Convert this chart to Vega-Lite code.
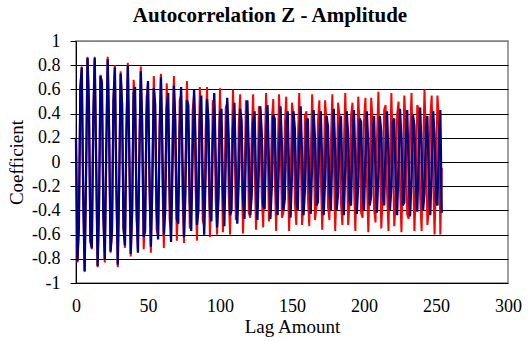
{
"$schema": "https://vega.github.io/schema/vega-lite/v6.json",
"width": 432, "height": 242,
"autosize": {"type": "none"},
"padding": {"left": 76, "top": 41, "right": 20, "bottom": 58},
"background": "white",
"title": {"text": "Autocorrelation Z - Amplitude", "font": "Liberation Serif", "fontSize": 21, "fontWeight": "bold", "color": "black", "anchor": "middle", "frame": "group", "dx": -22, "offset": 6},
"config": {
  "view": {"stroke": "#808080", "strokeWidth": 1.5},
  "axis": {"labelFont": "Liberation Serif", "labelFontSize": 18, "labelColor": "black", "titleFont": "Liberation Serif", "titleFontSize": 19, "titleFontWeight": "normal", "titleColor": "black"}
},
"data": {"values": [
{"lag":0,"red":0.19,"blue":0.19},{"lag":1,"red":-0.83,"blue":-0.82},{"lag":2,"red":-0.54,"blue":-0.53},{"lag":3,"red":0.61,"blue":0.60},{"lag":4,"red":0.79,"blue":0.78},
{"lag":5,"red":-0.28,"blue":-0.28},{"lag":6,"red":-0.91,"blue":-0.90},{"lag":7,"red":-0.10,"blue":-0.09},{"lag":8,"red":0.87,"blue":0.86},{"lag":9,"red":0.46,"blue":0.45},
{"lag":10,"red":-0.66,"blue":-0.65},{"lag":11,"red":-0.72,"blue":-0.71},{"lag":12,"red":0.36,"blue":0.36},{"lag":13,"red":0.87,"blue":0.86},{"lag":14,"red":0.00,"blue":0.00},
{"lag":15,"red":-0.87,"blue":-0.86},{"lag":16,"red":-0.36,"blue":-0.36},{"lag":17,"red":0.72,"blue":0.71},{"lag":18,"red":0.66,"blue":0.65},{"lag":19,"red":-0.45,"blue":-0.44},
{"lag":20,"red":-0.83,"blue":-0.81},{"lag":21,"red":0.09,"blue":0.09},{"lag":22,"red":0.87,"blue":0.85},{"lag":23,"red":0.27,"blue":0.26},{"lag":24,"red":-0.75,"blue":-0.74},
{"lag":25,"red":-0.58,"blue":-0.57},{"lag":26,"red":0.51,"blue":0.50},{"lag":27,"red":0.80,"blue":0.78},{"lag":28,"red":-0.18,"blue":-0.18},{"lag":29,"red":-0.87,"blue":-0.85},
{"lag":30,"red":-0.17,"blue":-0.17},{"lag":31,"red":0.75,"blue":0.73},{"lag":32,"red":0.48,"blue":0.47},{"lag":33,"red":-0.55,"blue":-0.54},{"lag":34,"red":-0.71,"blue":-0.69},
{"lag":35,"red":0.25,"blue":0.25},{"lag":36,"red":0.82,"blue":0.80},{"lag":37,"red":0.09,"blue":0.08},{"lag":38,"red":-0.78,"blue":-0.76},{"lag":39,"red":-0.41,"blue":-0.40},
{"lag":40,"red":0.68,"blue":0.57},{"lag":41,"red":0.53,"blue":0.62},{"lag":42,"red":-0.46,"blue":-0.31},{"lag":43,"red":-0.72,"blue":-0.75},{"lag":44,"red":0.16,"blue":0.00},
{"lag":45,"red":0.79,"blue":0.75},{"lag":46,"red":0.16,"blue":0.31},{"lag":47,"red":-0.72,"blue":-0.62},{"lag":48,"red":-0.46,"blue":-0.57},{"lag":49,"red":0.53,"blue":0.39},
{"lag":50,"red":0.65,"blue":0.67},{"lag":51,"red":-0.23,"blue":-0.07},{"lag":52,"red":-0.75,"blue":-0.70},{"lag":53,"red":-0.08,"blue":-0.22},{"lag":54,"red":0.71,"blue":0.61},
{"lag":55,"red":0.38,"blue":0.47},{"lag":56,"red":-0.56,"blue":-0.41},{"lag":57,"red":-0.61,"blue":-0.64},{"lag":58,"red":0.31,"blue":0.15},{"lag":59,"red":0.73,"blue":0.70},
{"lag":60,"red":-0.15,"blue":0.14},{"lag":61,"red":-0.71,"blue":-0.60},{"lag":62,"red":-0.15,"blue":-0.39},{"lag":63,"red":0.65,"blue":0.44},{"lag":64,"red":0.42,"blue":0.57},
{"lag":65,"red":-0.47,"blue":-0.20},{"lag":66,"red":-0.61,"blue":-0.66},{"lag":67,"red":0.22,"blue":-0.07},{"lag":68,"red":0.71,"blue":0.63},{"lag":69,"red":0.07,"blue":0.33},
{"lag":70,"red":-0.65,"blue":-0.47},{"lag":71,"red":-0.34,"blue":-0.51},{"lag":72,"red":0.51,"blue":0.26},{"lag":73,"red":0.55,"blue":0.62},{"lag":74,"red":-0.28,"blue":0.00},
{"lag":75,"red":-0.67,"blue":-0.62},{"lag":76,"red":0.00,"blue":-0.26},{"lag":77,"red":0.67,"blue":0.51},{"lag":78,"red":0.28,"blue":0.47},{"lag":79,"red":-0.55,"blue":-0.32},
{"lag":80,"red":-0.38,"blue":-0.57},{"lag":81,"red":0.43,"blue":0.06},{"lag":82,"red":0.56,"blue":0.60},{"lag":83,"red":-0.20,"blue":0.19},{"lag":84,"red":-0.65,"blue":-0.52},
{"lag":85,"red":-0.07,"blue":-0.40},{"lag":86,"red":0.62,"blue":0.35},{"lag":87,"red":0.33,"blue":0.55},{"lag":88,"red":-0.48,"blue":-0.12},{"lag":89,"red":-0.53,"blue":-0.60},
{"lag":90,"red":0.26,"blue":-0.12},{"lag":91,"red":0.62,"blue":0.52},{"lag":92,"red":0.00,"blue":0.34},{"lag":93,"red":-0.62,"blue":-0.38},{"lag":94,"red":-0.26,"blue":-0.49},
{"lag":95,"red":0.51,"blue":0.18},{"lag":96,"red":0.47,"blue":0.57},{"lag":97,"red":-0.32,"blue":0.06},{"lag":98,"red":-0.60,"blue":-0.54},{"lag":99,"red":0.07,"blue":-0.29},
{"lag":100,"red":0.61,"blue":0.40},{"lag":101,"red":0.06,"blue":0.44},{"lag":102,"red":-0.58,"blue":-0.22},{"lag":103,"red":-0.31,"blue":-0.53},{"lag":104,"red":0.45,"blue":0.00},
{"lag":105,"red":0.49,"blue":0.53},{"lag":106,"red":-0.25,"blue":0.22},{"lag":107,"red":-0.60,"blue":-0.44},{"lag":108,"red":0.00,"blue":-0.40},{"lag":109,"red":0.60,"blue":0.27},
{"lag":110,"red":0.24,"blue":0.49},{"lag":111,"red":-0.48,"blue":-0.05},{"lag":112,"red":-0.44,"blue":-0.51},{"lag":113,"red":0.30,"blue":-0.16},{"lag":114,"red":0.56,"blue":0.44},
{"lag":115,"red":-0.06,"blue":0.34},{"lag":116,"red":-0.59,"blue":-0.30},{"lag":117,"red":-0.18,"blue":-0.47},{"lag":118,"red":0.51,"blue":0.11},{"lag":119,"red":0.39,"blue":0.51},
{"lag":120,"red":-0.42,"blue":0.10},{"lag":121,"red":-0.46,"blue":-0.44},{"lag":122,"red":0.23,"blue":-0.28},{"lag":123,"red":0.56,"blue":0.32},{"lag":124,"red":0.00,"blue":0.42},
{"lag":125,"red":-0.56,"blue":-0.15},{"lag":126,"red":-0.23,"blue":-0.48},{"lag":127,"red":0.46,"blue":-0.05},{"lag":128,"red":0.42,"blue":0.46},{"lag":129,"red":-0.29,"blue":0.24},
{"lag":130,"red":-0.54,"blue":-0.36},{"lag":131,"red":0.06,"blue":-0.39},{"lag":132,"red":0.57,"blue":0.20},{"lag":133,"red":0.18,"blue":0.47},{"lag":134,"red":-0.49,"blue":0.00},
{"lag":135,"red":-0.38,"blue":-0.47},{"lag":136,"red":0.34,"blue":-0.20},{"lag":137,"red":0.52,"blue":0.39},{"lag":138,"red":-0.12,"blue":0.36},{"lag":139,"red":-0.57,"blue":-0.24},
{"lag":140,"red":0.00,"blue":-0.44},{"lag":141,"red":0.56,"blue":0.05},{"lag":142,"red":0.23,"blue":0.46},{"lag":143,"red":-0.46,"blue":0.14},{"lag":144,"red":-0.42,"blue":-0.40},
{"lag":145,"red":0.29,"blue":-0.31},{"lag":146,"red":0.54,"blue":0.27},{"lag":147,"red":-0.06,"blue":0.42},{"lag":148,"red":-0.57,"blue":-0.10},{"lag":149,"red":-0.18,"blue":-0.46},
{"lag":150,"red":0.49,"blue":-0.10},{"lag":151,"red":0.38,"blue":0.42},{"lag":152,"red":-0.34,"blue":0.27},{"lag":153,"red":-0.52,"blue":-0.31},{"lag":154,"red":0.12,"blue":-0.40},
{"lag":155,"red":0.57,"blue":0.14},{"lag":156,"red":0.12,"blue":0.46},{"lag":157,"red":-0.52,"blue":0.05},{"lag":158,"red":-0.34,"blue":-0.44},{"lag":159,"red":0.38,"blue":-0.23},
{"lag":160,"red":0.42,"blue":0.33},{"lag":161,"red":-0.28,"blue":0.36},{"lag":162,"red":-0.53,"blue":-0.18},{"lag":163,"red":0.06,"blue":-0.43},{"lag":164,"red":0.56,"blue":0.00},
{"lag":165,"red":0.17,"blue":0.43},{"lag":166,"red":-0.48,"blue":0.18},{"lag":167,"red":-0.37,"blue":-0.36},{"lag":168,"red":0.33,"blue":-0.33},{"lag":169,"red":0.51,"blue":0.22},
{"lag":170,"red":-0.12,"blue":0.42},{"lag":171,"red":-0.56,"blue":-0.05},{"lag":172,"red":-0.12,"blue":-0.44},{"lag":173,"red":0.51,"blue":-0.14},{"lag":174,"red":0.33,"blue":0.38},
{"lag":175,"red":-0.37,"blue":0.29},{"lag":176,"red":-0.48,"blue":-0.26},{"lag":177,"red":0.17,"blue":-0.40},{"lag":178,"red":0.56,"blue":0.09},{"lag":179,"red":0.06,"blue":0.44},
{"lag":180,"red":-0.57,"blue":0.09},{"lag":181,"red":-0.18,"blue":-0.40},{"lag":182,"red":0.49,"blue":-0.26},{"lag":183,"red":0.38,"blue":0.29},{"lag":184,"red":-0.34,"blue":0.38},
{"lag":185,"red":-0.52,"blue":-0.14},{"lag":186,"red":0.12,"blue":-0.44},{"lag":187,"red":0.57,"blue":-0.05},{"lag":188,"red":0.12,"blue":0.42},{"lag":189,"red":-0.52,"blue":0.22},
{"lag":190,"red":-0.34,"blue":-0.33},{"lag":191,"red":0.38,"blue":-0.36},{"lag":192,"red":0.49,"blue":0.18},{"lag":193,"red":-0.18,"blue":0.43},{"lag":194,"red":-0.57,"blue":0.00},
{"lag":195,"red":-0.06,"blue":-0.43},{"lag":196,"red":0.54,"blue":-0.18},{"lag":197,"red":0.29,"blue":0.36},{"lag":198,"red":-0.42,"blue":0.33},{"lag":199,"red":-0.46,"blue":-0.22},
{"lag":200,"red":0.34,"blue":-0.40},{"lag":201,"red":0.53,"blue":0.04},{"lag":202,"red":-0.12,"blue":0.42},{"lag":203,"red":-0.58,"blue":0.13},{"lag":204,"red":-0.12,"blue":-0.36},
{"lag":205,"red":0.53,"blue":-0.28},{"lag":206,"red":0.34,"blue":0.25},{"lag":207,"red":-0.39,"blue":0.38},{"lag":208,"red":-0.50,"blue":-0.09},{"lag":209,"red":0.18,"blue":-0.42},
{"lag":210,"red":0.58,"blue":-0.09},{"lag":211,"red":0.06,"blue":0.38},{"lag":212,"red":-0.55,"blue":0.25},{"lag":213,"red":-0.29,"blue":-0.28},{"lag":214,"red":0.43,"blue":-0.36},
{"lag":215,"red":0.47,"blue":0.13},{"lag":216,"red":-0.24,"blue":0.42},{"lag":217,"red":-0.57,"blue":0.04},{"lag":218,"red":0.00,"blue":-0.40},{"lag":219,"red":0.57,"blue":-0.21},
{"lag":220,"red":0.12,"blue":0.33},{"lag":221,"red":-0.53,"blue":0.36},{"lag":222,"red":-0.34,"blue":-0.18},{"lag":223,"red":0.39,"blue":-0.44},{"lag":224,"red":0.50,"blue":0.00},
{"lag":225,"red":-0.18,"blue":0.44},{"lag":226,"red":-0.58,"blue":0.18},{"lag":227,"red":-0.06,"blue":-0.36},{"lag":228,"red":0.55,"blue":-0.33},{"lag":229,"red":0.29,"blue":0.23},
{"lag":230,"red":-0.43,"blue":0.43},{"lag":231,"red":-0.47,"blue":-0.05},{"lag":232,"red":0.24,"blue":-0.45},{"lag":233,"red":0.57,"blue":-0.14},{"lag":234,"red":0.00,"blue":0.39},
{"lag":235,"red":-0.57,"blue":0.30},{"lag":236,"red":-0.24,"blue":-0.26},{"lag":237,"red":0.47,"blue":-0.41},{"lag":238,"red":0.43,"blue":0.09},{"lag":239,"red":-0.29,"blue":0.45},
{"lag":240,"red":-0.57,"blue":0.09},{"lag":241,"red":0.06,"blue":-0.40},{"lag":242,"red":0.60,"blue":-0.26},{"lag":243,"red":0.19,"blue":0.29},{"lag":244,"red":-0.52,"blue":0.38},
{"lag":245,"red":-0.40,"blue":-0.14},{"lag":246,"red":0.35,"blue":-0.44},{"lag":247,"red":0.55,"blue":-0.05},{"lag":248,"red":-0.12,"blue":0.42},{"lag":249,"red":-0.60,"blue":0.22},
{"lag":250,"red":-0.12,"blue":-0.33},{"lag":251,"red":0.55,"blue":-0.36},{"lag":252,"red":0.35,"blue":0.18},{"lag":253,"red":-0.60,"blue":0.43},{"lag":254,"red":-0.05,"blue":-0.42}
]},
"encoding": {
  "x": {"field": "lag", "type": "quantitative", "scale": {"domain": [0, 300], "nice": false},
        "axis": {"title": "Lag Amount", "values": [0, 50, 100, 150, 200, 250, 300], "grid": false, "domain": false, "ticks": false, "tickSize": 0, "labelPadding": 14, "titlePadding": 2, "labelFlush": false}}
},
"layer": [
  {"mark": {"type": "line", "color": "#FF0000", "strokeWidth": 2},
   "encoding": {"y": {"field": "red", "type": "quantitative", "scale": {"domain": [-1, 1], "nice": false},
     "axis": {"title": "Coefficient", "values": [-1, -0.8, -0.6, -0.4, -0.2, 0, 0.2, 0.4, 0.6, 0.8, 1], "labelExpr": "'' + datum.value",
              "grid": true, "gridColor": {"condition": {"test": "datum.value > 0.99", "value": "#808080"}, "value": "black"}, "gridWidth": 1,
              "domain": true, "domainColor": "black", "domainWidth": 1, "ticks": true, "tickColor": "black", "tickSize": 6, "labelPadding": 10, "titlePadding": 5}}}},
  {"mark": {"type": "line", "color": "#000080", "strokeWidth": 2.3},
   "encoding": {"y": {"field": "blue", "type": "quantitative", "scale": {"domain": [-1, 1], "nice": false},
     "axis": {"title": "Coefficient", "values": [-1, -0.8, -0.6, -0.4, -0.2, 0, 0.2, 0.4, 0.6, 0.8, 1], "labelExpr": "'' + datum.value",
              "grid": true, "gridColor": {"condition": {"test": "datum.value > 0.99", "value": "#808080"}, "value": "black"}, "gridWidth": 1,
              "domain": true, "domainColor": "black", "domainWidth": 1, "ticks": true, "tickColor": "black", "tickSize": 6, "labelPadding": 10, "titlePadding": 5}}}}
]
}
